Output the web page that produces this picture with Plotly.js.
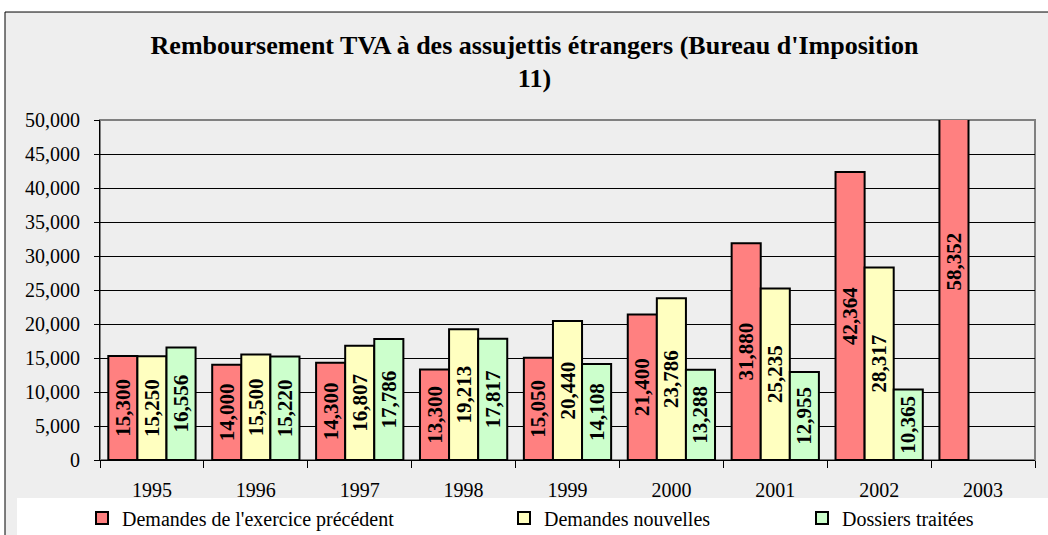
<!DOCTYPE html>
<html>
<head>
<meta charset="utf-8">
<script src="https://cdn.plot.ly/plotly-3.0.1.min.js"></script>
<style>
  body { margin: 0; background: #fff; }
  #chart { width: 1048px; height: 535px; }
</style>
</head>
<body>
<div id="chart"></div>
<script>
const years = ['1995', '1996', '1997', '1998', '1999', '2000', '2001', '2002', '2003'];
const demandesPrec = [15300, 14000, 14300, 13300, 15050, 21400, 31880, 42364, 58352];
const demandesNouv = [15250, 15500, 16807, 19213, 20440, 23786, 25235, 28317, null];
const dossiersTraites = [16556, 15220, 17786, 17817, 14108, 13288, 12955, 10365, null];

const serif = 'Liberation Serif, Times New Roman, serif';

function barTrace(name, values, color, legendId) {
  return {
    type: 'bar',
    name: name,
    x: years,
    y: values,
    legend: legendId,
    showlegend: true,
    marker: { color: color, line: { color: '#000', width: 2 } },
    texttemplate: '%{y:,}',
    textposition: 'inside',
    insidetextanchor: 'middle',
    textangle: -90,
    constraintext: 'none',
    insidetextfont: { family: serif, size: 21, color: '#000', weight: 'bold' },
    hoverinfo: 'skip'
  };
}

let plotData = [
  barTrace("Demandes de l'exercice précédent", demandesPrec, '#FF8080', 'legend'),
  barTrace('Demandes nouvelles', demandesNouv, '#FFFFC0', 'legend2'),
  barTrace('Dossiers traitées', dossiersTraites, '#CCFFCC', 'legend3')
];

// legends placed in container pixels (1048 x 535)
const legendCommon = {
  orientation: 'h',
  xref: 'container',
  yref: 'container',
  y: 1 - 518 / 535,
  yanchor: 'middle',
  xanchor: 'left',
  itemwidth: 30,
  bgcolor: 'rgba(0,0,0,0)',
  font: { family: serif, size: 20, color: '#000' }
};

let layout = {
  width: 1048,
  height: 535,
  margin: { l: 100, r: 13, t: 120, b: 75 },
  paper_bgcolor: '#fff',
  plot_bgcolor: '#e4e4e4',
  showlegend: true,
  barmode: 'group',
  bargap: 0.16,
  bargroupgap: 0,
  title: {
    text: "<b>Remboursement TVA à des assujettis étrangers (Bureau d'Imposition<br>11)</b>",
    font: { family: serif, size: 26, color: '#000' },
    x: 0.51,
    xanchor: 'center',
    y: 0.9,
    yanchor: 'top'
  },
  xaxis: {
    type: 'category',
    tickson: 'boundaries',
    ticks: 'outside',
    ticklen: 7,
    tickcolor: '#000',
    ticklabelstandoff: 12,
    showline: true,
    linecolor: '#000',
    linewidth: 1,
    showgrid: false,
    tickfont: { family: serif, size: 20, color: '#000' }
  },
  yaxis: {
    range: [0, 50000],
    dtick: 5000,
    tickformat: ',d',
    ticks: 'outside',
    ticklen: 5,
    tickcolor: '#000',
    ticklabelstandoff: 10,
    showline: true,
    linecolor: '#000',
    linewidth: 1,
    showgrid: true,
    gridcolor: '#000',
    gridwidth: 1,
    zeroline: false,
    tickfont: { family: serif, size: 20, color: '#000' }
  },
  legend: Object.assign({}, legendCommon, { x: 82 / 1048 }),
  legend2: Object.assign({}, legendCommon, { x: 504 / 1048 }),
  legend3: Object.assign({}, legendCommon, { x: 802 / 1048 }),
  shapes: [
    // outer chart frame
    { type: 'rect', xref: 'paper', yref: 'paper', x0: -0.1016, x1: 1.02, y0: -0.24, y1: 1.3176,
      fillcolor: '#eeeeee', line: { color: '#000', width: 1 }, layer: 'below' },
    // white legend strip
    { type: 'rect', xref: 'paper', yref: 'paper', x0: -0.0888, x1: 1.02, y0: -0.24, y1: -0.1118,
      fillcolor: '#fff', line: { width: 0 }, layer: 'below' },
    // plot area border (top/right grey)
    { type: 'rect', xref: 'paper', yref: 'paper', x0: 0, x1: 1, y0: 0, y1: 1,
      fillcolor: 'rgba(0,0,0,0)', line: { color: '#808080', width: 2 }, layer: 'below' }
  ]
};

Plotly.newPlot('chart', plotData, layout, { displayModeBar: false, staticPlot: true });
</script>
</body>
</html>
